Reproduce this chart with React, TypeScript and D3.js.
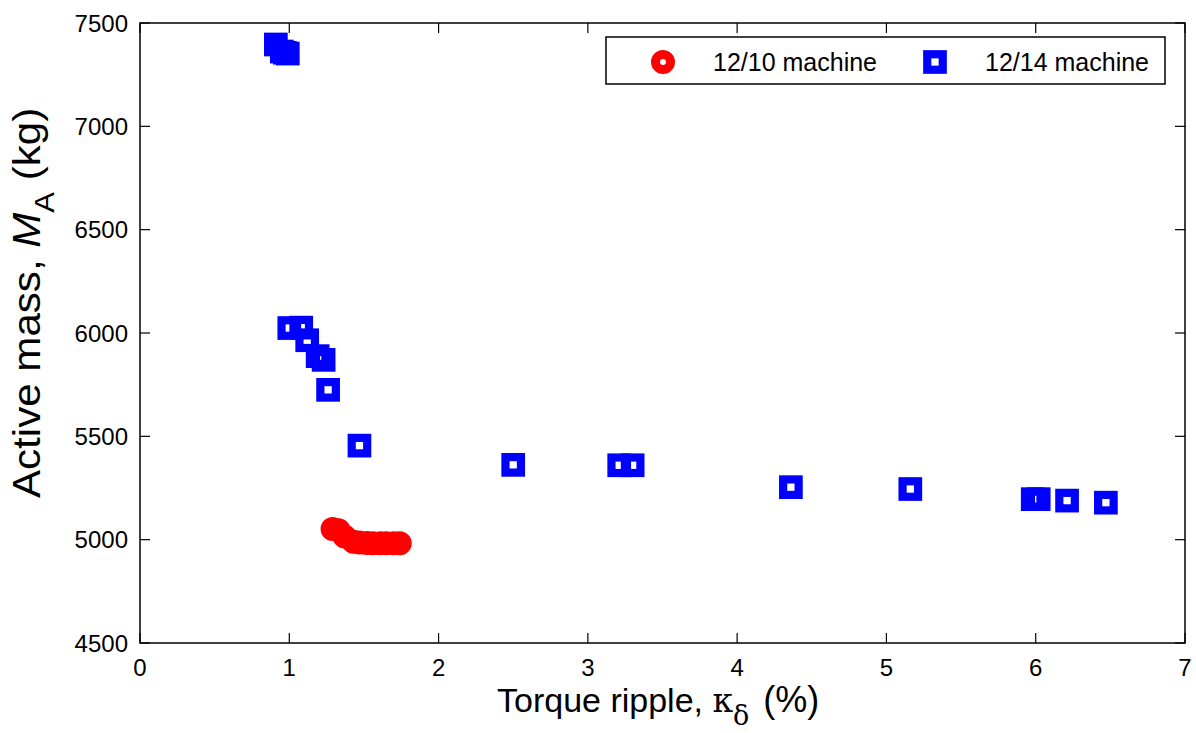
import React from "react";
import * as d3 from "d3";

const xTicks = [0, 1, 2, 3, 4, 5, 6, 7];
const yTicks = [4500, 5000, 5500, 6000, 6500, 7000, 7500];

const ripple1210 = [1.29, 1.33, 1.37, 1.43, 1.47, 1.52, 1.56, 1.61, 1.65, 1.70, 1.74];
const mass1210 = [5052, 5046, 5015, 4990, 4986, 4984, 4983, 4983, 4983, 4983, 4983];

const ripple1214 = [0.91, 0.95, 0.97, 0.99, 1.0, 1.08, 1.12, 1.19, 1.23, 1.26, 1.47, 2.5, 3.21, 3.3, 4.36, 5.16, 5.98, 6.02, 6.21, 6.47];
const mass1214 = [7396, 7362, 7356, 7352, 6024, 6026, 5965, 5888, 5870, 5725, 5455, 5362, 5360, 5360, 5254, 5245, 5196, 5196, 5189, 5179];

const legendLabels = ["12/10 machine", "12/14 machine"];

const W = 1196;
const H = 733;
const left = 140;
const right = 1185;
const top = 23;
const bottom = 643;

export default function App() {
  const x = d3.scaleLinear().domain([0, 7]).range([left, right]);
  const y = d3.scaleLinear().domain([4500, 7500]).range([bottom, top]);
  const font = "'Liberation Sans', Arial, Helvetica, sans-serif";
  const tickLen = 10;
  const sq = 15.5;
  const sqW = 8.2;
  const r = 7.5;
  const cW = 9;

  return (
    <svg width={W} height={H} style={{ position: "absolute", left: 0, top: 0, background: "#fff" }} fontFamily={font}>
      <rect x={0} y={0} width={W} height={H} fill="#fff" />
      {/* ticks */}
      {xTicks.map((t) => (
        <g key={"xt" + t}>
          <line x1={x(t)} x2={x(t)} y1={bottom} y2={bottom - tickLen} stroke="#000" strokeWidth={1.2} />
          <line x1={x(t)} x2={x(t)} y1={top} y2={top + tickLen} stroke="#000" strokeWidth={1.2} />
          <text x={x(t)} y={676} textAnchor="middle" fontSize={24} fill="#000">{t}</text>
        </g>
      ))}
      {yTicks.map((t) => (
        <g key={"yt" + t}>
          <line x1={left} x2={left + tickLen} y1={y(t)} y2={y(t)} stroke="#000" strokeWidth={1.2} />
          <line x1={right} x2={right - tickLen} y1={y(t)} y2={y(t)} stroke="#000" strokeWidth={1.2} />
          <text x={128} y={y(t) + 8.5} textAnchor="end" fontSize={24} fill="#000">{t}</text>
        </g>
      ))}
      {/* data */}
      {ripple1210.map((v, i) => (
        <circle key={"r" + i} cx={x(v)} cy={y(mass1210[i])} r={r} fill="none" stroke="#ff0000" strokeWidth={cW} />
      ))}
      {ripple1214.map((v, i) => (
        <rect key={"b" + i} x={x(v) - sq / 2} y={y(mass1214[i]) - sq / 2} width={sq} height={sq} fill="none" stroke="#0000ff" strokeWidth={sqW} />
      ))}
      {/* frame */}
      <rect x={left} y={top} width={right - left} height={bottom - top} fill="none" stroke="#000" strokeWidth={1.5} />
      {/* legend */}
      <rect x={606} y={37} width={559} height={47} fill="#fff" stroke="#000" strokeWidth={1.5} />
      <circle cx={663} cy={62} r={r} fill="none" stroke="#ff0000" strokeWidth={cW} />
      <text x={713} y={71} fontSize={25} fill="#000">{legendLabels[0]}</text>
      <rect x={935 - sq / 2} y={62 - sq / 2} width={sq} height={sq} fill="none" stroke="#0000ff" strokeWidth={sqW} />
      <text x={985} y={71} fontSize={25} fill="#000">{legendLabels[1]}</text>
      {/* x label */}
      <text x={497} y={712} fontSize={34} fill="#000">
        <tspan>Torque ripple, </tspan>
        <tspan fontFamily="'DejaVu Serif', serif" fontSize={33}>κ</tspan>
        <tspan fontFamily="'DejaVu Serif', serif" fontSize={27} dy={13}>δ</tspan>
        <tspan dy={-13} dx={4} fontSize={36}> (%)</tspan>
      </text>
      {/* y label */}
      <g transform="translate(40,498) rotate(-90) scale(1.108,1)">
        <text x={0} y={0} fontSize={38} fill="#000">
          <tspan>Active mass, </tspan>
          <tspan fontStyle="italic">M</tspan>
          <tspan fontSize={28} dy={14}>A</tspan>
          <tspan dy={-14}> (kg)</tspan>
        </text>
      </g>
    </svg>
  );
}
